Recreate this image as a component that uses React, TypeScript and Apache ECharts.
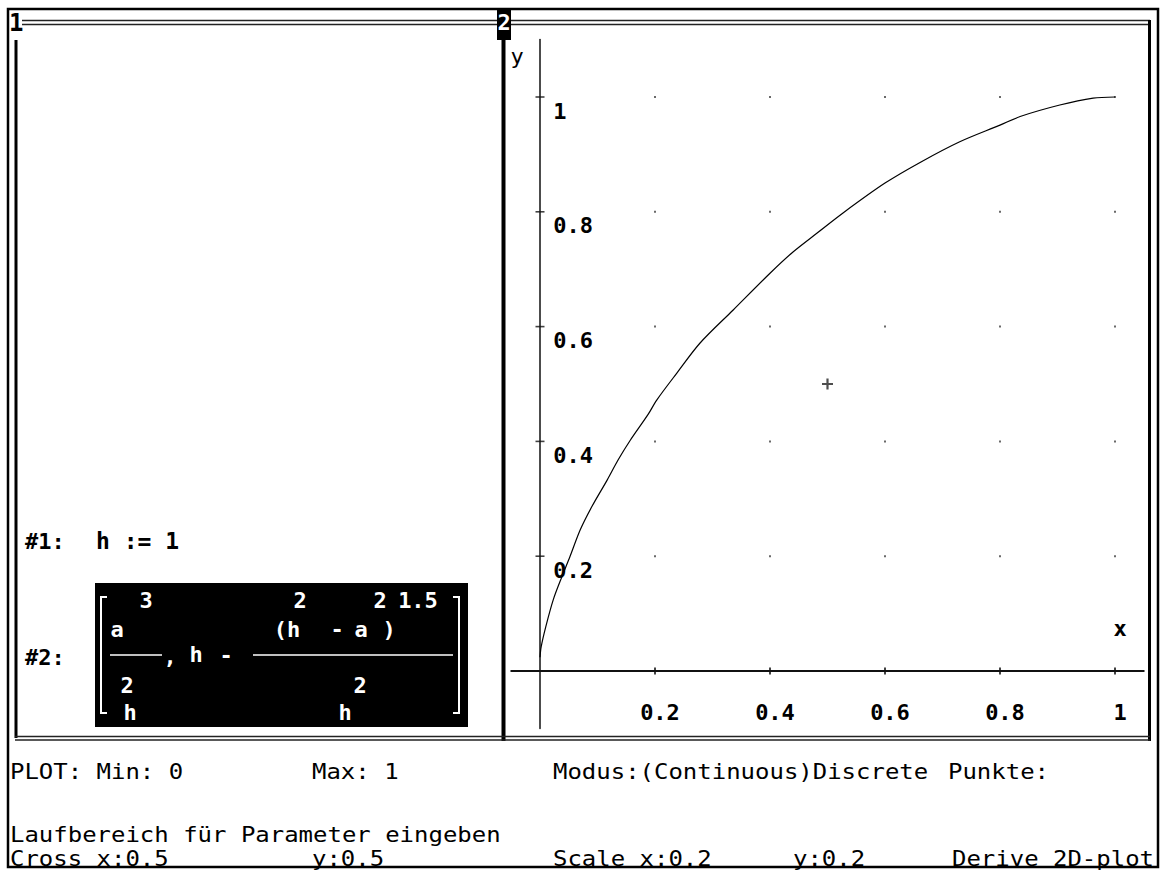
import React, { useEffect, useRef } from "react";
import * as echarts from "echarts";

// ---- data ----
const curveX = [0.0, 0.002, 0.010, 0.023, 0.038, 0.052, 0.070, 0.090, 0.117, 0.136, 0.157, 0.188, 0.203, 0.238, 0.278, 0.336, 0.400, 0.440, 0.482, 0.527, 0.600, 0.661, 0.730, 0.800, 0.835, 0.904, 0.962, 1.0];
const curveY = [0.024, 0.042, 0.077, 0.124, 0.164, 0.199, 0.246, 0.286, 0.333, 0.368, 0.402, 0.447, 0.472, 0.519, 0.571, 0.629, 0.693, 0.730, 0.763, 0.798, 0.850, 0.886, 0.922, 0.951, 0.966, 0.986, 0.998, 1.0];
const xTicks = [0.2, 0.4, 0.6, 0.8, 1];
const yTicks = [0.2, 0.4, 0.6, 0.8, 1];
const crossPoint = [0.5, 0.5];

const statusTexts = [
  { t: "PLOT: Min: 0", x: 10, y: 771 },
  { t: "Max: 1", x: 312, y: 771 },
  { t: "Modus:(Continuous)Discrete", x: 553, y: 771 },
  { t: "Punkte:", x: 948, y: 771 },
  { t: "Laufbereich für Parameter eingeben", x: 10, y: 834 },
  { t: "Cross x:0.5", x: 10, y: 858 },
  { t: "y:0.5", x: 312, y: 858 },
  { t: "Scale x:0.2", x: 553, y: 858 },
  { t: "y:0.2", x: 793, y: 858 },
  { t: "Derive 2D-plot", x: 952, y: 858 },
];

const MONO = "'DejaVu Sans Mono', 'Liberation Mono', monospace";

function txt(text: string, x: number, y: number, opts: any = {}) {
  const align = opts.align || "left";
  return {
    type: "text",
    x,
    y,
    scaleX: opts.scaleX || 1,
    z: opts.z || 10,
    style: {
      text,
      fill: opts.fill || "#000",
      fontSize: opts.fontSize || 22,
      fontFamily: MONO,
      fontWeight: opts.fontWeight || "bold",
      align,
      textAlign: align,
      verticalAlign: "middle",
      textVerticalAlign: "middle",
    },
  };
}

function ln(x1: number, y1: number, x2: number, y2: number, w: number, color = "#000", z = 5) {
  return {
    type: "line",
    z,
    shape: { x1, y1, x2, y2 },
    style: { stroke: color, lineWidth: w },
  };
}

export default function App() {
  const ref = useRef<HTMLDivElement>(null);

  useEffect(() => {
    if (!ref.current) return;
    const chart = echarts.init(ref.current, null, { renderer: "svg" });

    const curve = curveX.map((x, i) => [x, curveY[i]]);
    const dots: number[][] = [];
    xTicks.forEach((x) => yTicks.forEach((y) => dots.push([x, y])));
    const xTickMarks = xTicks.map((x) => [x, 0]);
    const yTickMarks = yTicks.map((y) => [0, y]);

    const W = "#fff";
    const graphics: any[] = [
      // outer frame
      { type: "rect", z: 5, shape: { x: 8, y: 9, width: 1150, height: 858 }, style: { fill: "none", stroke: "#000", lineWidth: 2.5 } },
      // top double lines
      ln(22, 20.5, 497, 20.5, 1.5, "#222"),
      ln(22, 24.5, 497, 24.5, 1.5, "#222"),
      ln(511, 20.5, 1150, 20.5, 1.5, "#222"),
      ln(511, 24.5, 1150, 24.5, 1.5, "#222"),
      // panel verticals
      ln(16, 40, 16, 738, 3),
      ln(503.5, 38, 503.5, 741, 4),
      ln(1149.5, 20, 1149.5, 741, 3),
      // bottom double lines
      ln(15, 736.5, 1150, 736.5, 1.5, "#222"),
      ln(15, 740, 1150, 740, 1.5, "#222"),
      // window labels
      txt("1", 9, 23, { fontSize: 24 }),
      { type: "rect", z: 6, shape: { x: 497, y: 10, width: 14, height: 30 }, style: { fill: "#000" } },
      txt("2", 504, 22, { fontSize: 22, fill: W, align: "center", z: 11 }),
      // axis names
      txt("y", 517, 56, { fontSize: 22, fontWeight: "normal", align: "center" }),
      txt("x", 1120, 628, { fontSize: 22, align: "center" }),
      // algebra window
      txt("#1:", 25, 541),
      txt("h := 1", 96, 541, { fontSize: 23 }),
      txt("#2:", 25, 657),
      { type: "rect", z: 6, shape: { x: 95, y: 583, width: 373, height: 144 }, style: { fill: "#000" } },
      { type: "polyline", z: 11, shape: { points: [[107, 597], [101, 597], [101, 713], [107, 713]] }, style: { stroke: W, lineWidth: 2, fill: "none" } },
      { type: "polyline", z: 11, shape: { points: [[453, 597], [459, 597], [459, 713], [453, 713]] }, style: { stroke: W, lineWidth: 2, fill: "none" } },
      txt("3", 146, 600, { fill: W, align: "center", z: 11 }),
      txt("a", 117, 629, { fill: W, align: "center", z: 11 }),
      ln(110, 655, 162, 655, 1.5, W, 11),
      txt(",", 170, 656, { fill: W, align: "center", z: 11 }),
      txt("h", 196, 654, { fill: W, align: "center", z: 11 }),
      txt("-", 226, 655, { fill: W, align: "center", z: 11 }),
      txt("2", 300, 600, { fill: W, align: "center", z: 11 }),
      txt("2", 380, 600, { fill: W, align: "center", z: 11 }),
      txt("1.5", 418, 600, { fill: W, align: "center", z: 11 }),
      txt("(h", 287, 629, { fill: W, align: "center", z: 11 }),
      txt("-", 337, 629, { fill: W, align: "center", z: 11 }),
      txt("a", 361, 629, { fill: W, align: "center", z: 11 }),
      txt(")", 389, 629, { fill: W, align: "center", z: 11 }),
      ln(253, 655, 453, 655, 1.5, W, 11),
      txt("2", 127, 685, { fill: W, align: "center", z: 11 }),
      txt("h", 130, 712, { fill: W, align: "center", z: 11 }),
      txt("2", 360, 685, { fill: W, align: "center", z: 11 }),
      txt("h", 345, 712, { fill: W, align: "center", z: 11 }),
      // status lines
      ...statusTexts.map((s) => txt(s.t, s.x, s.y, { fontSize: 22, fontWeight: "normal", scaleX: 1.09 })),
    ];

    const labelStyle = {
      color: "#000",
      fontFamily: MONO,
      fontWeight: "bold",
      fontSize: 22,
      formatter: (v: number) => String(v),
    };

    chart.setOption({
      animation: false,
      backgroundColor: "#fff",
      grid: { left: 511.25, top: 39.6, width: 632.5, height: 688.8 },
      xAxis: {
        type: "value",
        min: -0.05,
        max: 1.05,
        axisLine: { show: true, onZero: true, lineStyle: { color: "#111", width: 2 } },
        axisTick: { show: false },
        splitLine: { show: false },
        axisLabel: { ...labelStyle, customValues: xTicks, margin: -27, padding: [0, 0, 0, 10], verticalAlign: "top" },
      },
      yAxis: {
        type: "value",
        min: -0.1,
        max: 1.1,
        axisLine: { show: true, onZero: true, lineStyle: { color: "#111", width: 1.5 } },
        axisTick: { show: false },
        splitLine: { show: false },
        axisLabel: { ...labelStyle, customValues: yTicks, inside: true, align: "left", margin: 42, verticalAlign: "top", lineHeight: 28 },
      },
      series: [
        {
          type: "scatter",
          data: dots,
          symbol: "rect",
          symbolSize: 2,
          itemStyle: { color: "#444" },
          silent: true,
          z: 2,
        },
        {
          type: "scatter",
          data: xTickMarks,
          symbol: "rect",
          symbolSize: [2, 7],
          itemStyle: { color: "#111" },
          silent: true,
          z: 3,
        },
        {
          type: "scatter",
          data: yTickMarks,
          symbol: "rect",
          symbolSize: [9, 1.6],
          itemStyle: { color: "#111" },
          silent: true,
          z: 3,
        },
        {
          type: "scatter",
          data: [crossPoint],
          symbol: "path://M4,0H6V4H10V6H6V10H4V6H0V4H4Z",
          symbolSize: 11,
          itemStyle: { color: "#222" },
          silent: true,
          z: 3,
        },
        {
          type: "line",
          data: curve,
          showSymbol: false,
          smooth: 0.3,
          lineStyle: { color: "#000", width: 1.2 },
          silent: true,
          z: 4,
        },
      ],
      graphic: { elements: graphics },
    });

    return () => chart.dispose();
  }, []);

  return (
    <div
      ref={ref}
      style={{ position: "fixed", left: 0, top: 0, width: 1167, height: 871, background: "#fff" }}
    />
  );
}
